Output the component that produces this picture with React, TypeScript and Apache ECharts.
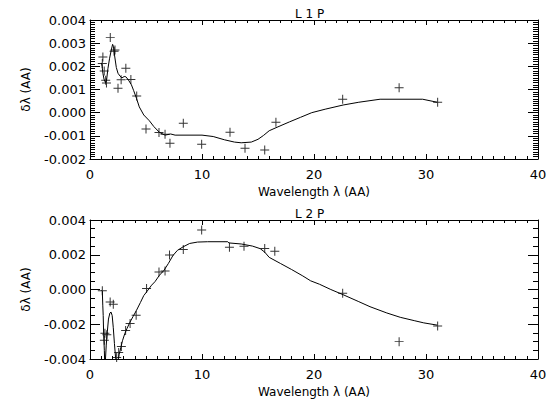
import React, { useEffect, useRef } from "react";
import * as echarts from "echarts";

// Panel titles and axis names
const panelTitles = ["L 1 P", "L 2 P"];
const xAxisName = "Wavelength \u03bb (AA)";
const yAxisName = "\u03b4\u03bb (AA)";

// Top panel (L 1 P): fitted curve
const topCurveX = [1.02, 1.08, 1.15, 1.25, 1.38, 1.48, 1.6, 1.75, 1.9, 2.02, 2.1, 2.2, 2.35, 2.5, 2.68, 2.85, 3.05, 3.2, 3.42, 3.7, 3.9, 4.15, 4.4, 4.8, 5.3, 5.7, 6.2, 6.7, 7.2, 7.6, 10.0, 11.0, 12.0, 12.9, 13.5, 14.4, 15.0, 15.5, 16.0, 16.7, 17.8, 18.8, 19.8, 21.0, 22.6, 24.0, 25.9, 29.7, 31.0];
const topCurveY = [0.00215, 0.002, 0.0017, 0.00145, 0.0013, 0.0014, 0.0019, 0.00235, 0.0027, 0.00295, 0.00285, 0.00245, 0.00195, 0.0017, 0.00158, 0.0015, 0.00156, 0.00155, 0.00142, 0.0012, 0.00095, 0.00062, 0.00025, -0.0001, -0.00035, -0.0006, -0.00085, -0.00097, -0.00092, -0.00097, -0.00097, -0.00103, -0.00117, -0.00127, -0.0013, -0.00127, -0.00115, -0.00098, -0.00078, -0.00063, -0.0004, -0.0002, 0.0, 0.00015, 0.00033, 0.00045, 0.00058, 0.00058, 0.00045];

// Top panel: measured points
const topPointsX = [1.1, 1.15, 1.27, 1.4, 1.47, 1.81, 2.15, 2.23, 2.5, 2.78, 3.2, 3.65, 4.17, 5.0, 6.16, 6.7, 7.14, 8.33, 9.97, 12.5, 13.84, 15.6, 16.6, 22.56, 27.6, 31.04];
const topPointsY = [0.00212, 0.0024, 0.0018, 0.0014, 0.00128, 0.00325, 0.00265, 0.0027, 0.00105, 0.00142, 0.00192, 0.00143, 0.00072, -0.0007, -0.00086, -0.00093, -0.00132, -0.00046, -0.00136, -0.00085, -0.00154, -0.00161, -0.00041, 0.00058, 0.00108, 0.00045];

// Bottom panel (L 2 P): fitted curve
const botCurveX = [1.02, 1.1, 1.14, 1.18, 1.22, 1.28, 1.33, 1.45, 1.55, 1.65, 1.78, 1.88, 1.98, 2.08, 2.18, 2.28, 2.38, 2.5, 2.6, 2.75, 2.9, 3.1, 3.3, 3.55, 3.85, 4.15, 4.5, 4.8, 5.1, 5.5, 5.8, 6.2, 6.6, 7.0, 7.4, 7.8, 8.3, 8.9, 9.6, 10.5, 12.3, 12.4, 13.5, 14.5, 15.2, 15.6, 16.0, 17.0, 18.0, 19.0, 19.7, 20.5, 21.5, 22.6, 24.0, 25.0, 26.5, 27.7, 29.0, 29.8, 31.0];
const botCurveY = [-0.00005, -0.0001, -0.0009, -0.0015, -0.0026, -0.0035, -0.0046, -0.0032, -0.0024, -0.0017, -0.00135, -0.0013, -0.0015, -0.0022, -0.0031, -0.0039, -0.0043, -0.0041, -0.00375, -0.00335, -0.00295, -0.00255, -0.00225, -0.0019, -0.00155, -0.0012, -0.00075, -0.00035, -0.0001, 0.00025, 0.00045, 0.00082, 0.0011, 0.0015, 0.00195, 0.00225, 0.00245, 0.00265, 0.00273, 0.00275, 0.00275, 0.00268, 0.00262, 0.0025, 0.00235, 0.00215, 0.00185, 0.0015, 0.00115, 0.00078, 0.0005, 0.0003, 0.0, -0.0003, -0.0007, -0.00099, -0.00135, -0.0016, -0.0018, -0.00192, -0.00205];

// Bottom panel: measured points
const botPointsX = [1.1, 1.28, 1.33, 1.5, 1.8, 2.08, 2.38, 2.56, 2.8, 3.18, 3.58, 4.12, 5.05, 6.16, 6.7, 7.1, 8.33, 9.97, 12.45, 13.75, 15.6, 16.5, 22.56, 27.6, 31.04];
const botPointsY = [-0.00007, -0.00292, -0.00252, -0.0026, -0.00072, -0.00085, -0.00392, -0.00362, -0.00328, -0.00236, -0.00195, -0.00148, 0.00006, 0.00101, 0.00107, 0.00198, 0.0023, 0.00342, 0.00243, 0.00249, 0.00236, 0.0022, -0.00022, -0.003, -0.0021];

// Axis ranges
const xRange = [0, 40];
const xStep = 10;
const topYRange = [-0.002, 0.004];
const topYStep = 0.001;
const botYRange = [-0.004, 0.004];
const botYStep = 0.002;

const zip = (xs: number[], ys: number[]) => xs.map((x, i) => [x, ys[i]]);

const FONT = "DejaVu Sans";
const BLACK = "#000";
const PLUS = "path://M0,4L9,4L9,5L0,5Z M4,0L5,0L5,9L4,9Z";

export default function App() {
  const ref = useRef<HTMLDivElement>(null);
  useEffect(() => {
    if (!ref.current) return;
    const chart = echarts.init(ref.current, undefined, { renderer: "svg" });

    const xBase = (gridIndex: number, top: boolean) => ({
      type: "value",
      gridIndex,
      position: top ? "top" : "bottom",
      min: xRange[0],
      max: xRange[1],
      interval: xStep,
      name: top ? "" : xAxisName,
      nameLocation: "middle",
      nameGap: 27,
      nameTextStyle: { color: BLACK, fontFamily: FONT, fontSize: 12 },
      axisLine: { show: true, onZero: false, lineStyle: { color: BLACK, width: 1 } },
      axisTick: { show: true, inside: true, length: 5, lineStyle: { color: BLACK, width: 1 } },
      minorTick: { show: true, splitNumber: 10, length: 3, lineStyle: { color: BLACK, width: 1 } },
      axisLabel: { show: !top, color: BLACK, fontFamily: FONT, fontSize: 13, margin: 9 },
      splitLine: { show: false },
    });

    const yBase = (gridIndex: number, right: boolean, range: number[], step: number, minorSplit: number) => ({
      type: "value",
      gridIndex,
      position: right ? "right" : "left",
      min: range[0],
      max: range[1],
      interval: step,
      name: right ? "" : yAxisName,
      nameLocation: "middle",
      nameRotate: 90,
      nameGap: 58,
      nameTextStyle: { color: BLACK, fontFamily: FONT, fontSize: 12 },
      axisLine: { show: true, onZero: false, lineStyle: { color: BLACK, width: 1 } },
      axisTick: { show: true, inside: true, length: 10, lineStyle: { color: BLACK, width: 1 } },
      minorTick: { show: true, splitNumber: minorSplit, length: 5, lineStyle: { color: BLACK, width: 1 } },
      axisLabel: {
        show: !right,
        color: BLACK,
        fontFamily: FONT,
        fontSize: 13,
        margin: 4,
        formatter: (v: number) => v.toFixed(3),
      },
      splitLine: { show: false },
    });

    const option = {
      animation: false,
      backgroundColor: "#fff",
      title: [
        { text: panelTitles[0], left: 290, top: 3, textStyle: { color: BLACK, fontFamily: FONT, fontSize: 12, fontWeight: "normal" } },
        { text: panelTitles[1], left: 290, top: 203, textStyle: { color: BLACK, fontFamily: FONT, fontSize: 12, fontWeight: "normal" } },
      ],
      grid: [
        { left: 90, top: 20, width: 448, height: 139 },
        { left: 90, top: 220, width: 448, height: 139 },
      ],
      xAxis: [xBase(0, false), xBase(0, true), xBase(1, false), xBase(1, true)],
      yAxis: [
        yBase(0, false, topYRange, topYStep, 10),
        yBase(0, true, topYRange, topYStep, 10),
        yBase(1, false, botYRange, botYStep, 4),
        yBase(1, true, botYRange, botYStep, 4),
      ],
      series: [
        { type: "line", xAxisIndex: 0, yAxisIndex: 0, data: zip(topCurveX, topCurveY), showSymbol: false, clip: true, lineStyle: { color: BLACK, width: 1 } },
        { type: "scatter", xAxisIndex: 0, yAxisIndex: 0, data: zip(topPointsX, topPointsY), symbol: PLUS, symbolSize: 9, itemStyle: { color: BLACK } },
        { type: "line", xAxisIndex: 2, yAxisIndex: 2, data: zip(botCurveX, botCurveY), showSymbol: false, clip: true, lineStyle: { color: BLACK, width: 1 } },
        { type: "scatter", xAxisIndex: 2, yAxisIndex: 2, data: zip(botPointsX, botPointsY), symbol: PLUS, symbolSize: 9, itemStyle: { color: BLACK } },
      ],
    };
    chart.setOption(option as any);
    return () => chart.dispose();
  }, []);
  return (
    <div ref={ref} style={{ position: "fixed", left: 0, top: 0, width: 550, height: 400, background: "#fff" }} />
  );
}
